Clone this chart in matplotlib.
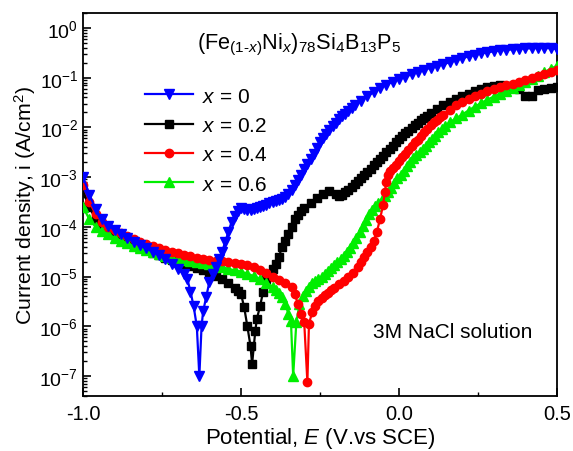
import numpy as np
import matplotlib
matplotlib.use("Agg")
import matplotlib.pyplot as plt

# Values: potential E (V vs SCE) and log10 of current density (A/cm2)
E_x00 = [-1.00, -0.98, -0.96, -0.94, -0.92, -0.90, -0.88, -0.86, -0.84, -0.82, -0.80, -0.78, -0.76,
         -0.74, -0.72, -0.70, -0.68, -0.67, -0.66, -0.65, -0.64, -0.632, -0.625, -0.62, -0.61, -0.60,
         -0.59, -0.58, -0.57, -0.56, -0.55, -0.54, -0.53, -0.52, -0.51, -0.50, -0.49, -0.48, -0.47,
         -0.46, -0.45, -0.44, -0.43, -0.42, -0.41, -0.40, -0.39, -0.38, -0.37, -0.36, -0.35, -0.34,
         -0.33, -0.32, -0.31, -0.30, -0.29, -0.28, -0.27, -0.26, -0.25, -0.24, -0.23, -0.22, -0.21,
         -0.20, -0.19, -0.18, -0.17, -0.16, -0.15, -0.14, -0.12, -0.10, -0.08, -0.06, -0.04, -0.02,
         0.00, 0.02, 0.04, 0.06, 0.08, 0.10, 0.12, 0.14, 0.16, 0.18, 0.20, 0.22, 0.24, 0.26, 0.28,
         0.30, 0.32, 0.34, 0.36, 0.38, 0.40, 0.42, 0.44, 0.46, 0.48, 0.50]
logi_x00 = [-3.00, -3.35, -3.65, -3.85, -3.98, -4.06, -4.15, -4.22, -4.30, -4.37, -4.43, -4.50, -4.57,
            -4.65, -4.75, -4.85, -4.95, -5.05, -5.30, -5.60, -6.00, -7.00, -6.00, -5.70, -5.40, -5.10,
            -4.95, -4.80, -4.65, -4.50, -4.30, -4.10, -3.90, -3.78, -3.68, -3.63, -3.64, -3.66, -3.66,
            -3.64, -3.62, -3.60, -3.57, -3.55, -3.52, -3.50, -3.48, -3.46, -3.43, -3.40, -3.33, -3.25,
            -3.15, -3.05, -2.95, -2.84, -2.74, -2.63, -2.53, -2.42, -2.30, -2.22, -2.13, -2.05, -1.98,
            -1.91, -1.84, -1.78, -1.72, -1.66, -1.60, -1.55, -1.46, -1.37, -1.29, -1.21, -1.14, -1.08,
            -1.03, -0.98, -0.93, -0.88, -0.84, -0.80, -0.77, -0.73, -0.69, -0.65, -0.61, -0.57, -0.54,
            -0.51, -0.49, -0.47, -0.45, -0.44, -0.43, -0.42, -0.41, -0.41, -0.40, -0.40, -0.41, -0.42]

E_x02 = [-1.00, -0.98, -0.96, -0.94, -0.92, -0.90, -0.88, -0.86, -0.84, -0.82, -0.80, -0.78, -0.76,
         -0.74, -0.72, -0.70, -0.68, -0.66, -0.64, -0.62, -0.60, -0.58, -0.56, -0.54, -0.52, -0.51,
         -0.50, -0.49, -0.48, -0.47, -0.465, -0.455, -0.45, -0.44, -0.43, -0.42, -0.41, -0.40, -0.39,
         -0.38, -0.37, -0.36, -0.35, -0.34, -0.33, -0.32, -0.31, -0.30, -0.28, -0.26, -0.24, -0.22,
         -0.20, -0.19, -0.18, -0.17, -0.16, -0.15, -0.14, -0.13, -0.12, -0.11, -0.10, -0.09, -0.08,
         -0.07, -0.06, -0.05, -0.04, -0.03, -0.02, -0.01, 0.00, 0.01, 0.02, 0.03, 0.04, 0.05, 0.06,
         0.07, 0.08, 0.09, 0.10, 0.12, 0.14, 0.16, 0.18, 0.20, 0.22, 0.24, 0.26, 0.28, 0.30, 0.32,
         0.34, 0.36, 0.38, 0.40, 0.42, 0.44, 0.46, 0.48, 0.50]
logi_x02 = [-3.30, -3.60, -3.85, -4.00, -4.10, -4.17, -4.24, -4.30, -4.36, -4.42, -4.47, -4.52, -4.57,
            -4.62, -4.66, -4.70, -4.74, -4.78, -4.82, -4.87, -4.92, -4.98, -5.05, -5.13, -5.22, -5.28,
            -5.35, -5.62, -6.00, -6.40, -6.76, -6.10, -5.85, -5.60, -5.30, -5.05, -4.95, -4.85, -4.75,
            -4.60, -4.40, -4.28, -4.15, -4.00, -3.85, -3.76, -3.68, -3.62, -3.52, -3.42, -3.33, -3.28,
            -3.33, -3.38, -3.36, -3.30, -3.25, -3.20, -3.14, -3.08, -3.02, -2.96, -2.90, -2.83, -2.76,
            -2.70, -2.64, -2.57, -2.50, -2.44, -2.37, -2.30, -2.24, -2.18, -2.12, -2.07, -2.02, -1.96,
            -1.91, -1.86, -1.81, -1.76, -1.71, -1.62, -1.54, -1.48, -1.42, -1.37, -1.32, -1.27, -1.23,
            -1.19, -1.16, -1.15, -1.16, -1.20, -1.23, -1.37, -1.36, -1.24, -1.22, -1.20, -1.19]

E_x04 = [-1.00, -0.98, -0.96, -0.94, -0.92, -0.90, -0.88, -0.86, -0.84, -0.82, -0.80, -0.78, -0.76,
         -0.74, -0.72, -0.70, -0.68, -0.66, -0.64, -0.62, -0.60, -0.58, -0.56, -0.54, -0.52, -0.50,
         -0.48, -0.46, -0.44, -0.42, -0.40, -0.38, -0.36, -0.34, -0.33, -0.32, -0.31, -0.30, -0.29,
         -0.285, -0.275, -0.265, -0.255, -0.245, -0.235, -0.225, -0.215, -0.205, -0.19, -0.175, -0.16,
         -0.145, -0.13, -0.12, -0.11, -0.10, -0.09, -0.08, -0.07, -0.06, -0.05, -0.045, -0.04, -0.035,
         -0.03, -0.02, -0.01, 0.00, 0.01, 0.02, 0.03, 0.04, 0.05, 0.06, 0.07, 0.08, 0.09, 0.10, 0.11,
         0.12, 0.13, 0.14, 0.16, 0.18, 0.20, 0.22, 0.24, 0.26, 0.28, 0.30, 0.32, 0.34, 0.36, 0.38,
         0.40, 0.42, 0.44, 0.46, 0.48, 0.50]
logi_x04 = [-3.15, -3.50, -3.75, -3.90, -4.00, -4.07, -4.13, -4.19, -4.25, -4.30, -4.34, -4.38, -4.42,
            -4.46, -4.50, -4.53, -4.56, -4.59, -4.62, -4.64, -4.66, -4.68, -4.69, -4.70, -4.72, -4.74,
            -4.77, -4.81, -4.86, -4.92, -5.00, -5.06, -5.12, -5.20, -5.35, -5.55, -5.75, -5.92, -7.12,
            -5.95, -5.72, -5.60, -5.50, -5.43, -5.37, -5.32, -5.27, -5.22, -5.15, -5.08, -5.00,
            -4.92, -4.80, -4.70, -4.60, -4.50, -4.40, -4.28, -4.10, -3.84, -3.55, -3.30, -3.10, -2.95,
            -2.88, -2.82, -2.76, -2.68, -2.60, -2.53, -2.45, -2.38, -2.30, -2.25, -2.17, -2.10, -2.03,
            -1.96, -1.90, -1.85, -1.80, -1.74, -1.65, -1.55, -1.48, -1.42, -1.37, -1.32, -1.27, -1.22,
            -1.18, -1.15, -1.12, -1.09, -1.05, -1.01, -0.97, -0.93, -0.89, -0.85]

E_x06 = [-1.00, -0.98, -0.96, -0.94, -0.92, -0.90, -0.88, -0.86, -0.84, -0.82, -0.80, -0.78, -0.76,
         -0.74, -0.72, -0.70, -0.68, -0.66, -0.64, -0.62, -0.60, -0.58, -0.56, -0.54, -0.52, -0.50,
         -0.48, -0.46, -0.44, -0.42, -0.40, -0.39, -0.38, -0.37, -0.36, -0.35, -0.342, -0.335, -0.325,
         -0.315, -0.305, -0.295, -0.285, -0.275, -0.265, -0.255, -0.245, -0.235, -0.225, -0.215,
         -0.205, -0.195, -0.185, -0.175, -0.165, -0.155, -0.145, -0.135, -0.125, -0.115, -0.105,
         -0.095, -0.085, -0.075, -0.065, -0.055, -0.045, -0.035, -0.025, -0.015, -0.005, 0.005, 0.015,
         0.025, 0.035, 0.045, 0.055, 0.065, 0.075, 0.085, 0.095, 0.105, 0.115, 0.125, 0.135, 0.145,
         0.16, 0.18, 0.20, 0.22, 0.24, 0.26, 0.28, 0.30, 0.32, 0.34, 0.36, 0.38, 0.40, 0.42, 0.44,
         0.46, 0.48, 0.50]
logi_x06 = [-3.60, -3.85, -4.00, -4.08, -4.15, -4.22, -4.28, -4.33, -4.38, -4.42, -4.47, -4.51, -4.55,
            -4.59, -4.62, -4.65, -4.67, -4.69, -4.71, -4.73, -4.75, -4.78, -4.81, -4.85, -4.87, -4.90,
            -4.94, -4.99, -5.05, -5.12, -5.20, -5.27, -5.33, -5.42, -5.55, -5.75, -5.90, -7.00, -5.92,
            -5.55, -5.38, -5.28, -5.20, -5.12, -5.08, -5.05, -5.00, -4.95, -4.89, -4.83,
            -4.77, -4.71, -4.65, -4.58, -4.50, -4.42, -4.33, -4.22, -4.10, -3.98, -3.86,
            -3.75, -3.66, -3.58, -3.51, -3.45, -3.37, -3.30, -3.22, -3.12, -3.02, -2.95, -2.87,
            -2.78, -2.70, -2.62, -2.55, -2.49, -2.43, -2.37, -2.30, -2.24, -2.17, -2.10, -2.04, -1.98,
            -1.90, -1.82, -1.74, -1.66, -1.58, -1.51, -1.44, -1.38, -1.32, -1.26, -1.20, -1.14, -1.08,
            -1.02, -0.96, -0.89, -0.82, -0.76]

labels = ["$x$ = 0", "$x$ = 0.2", "$x$ = 0.4", "$x$ = 0.6"]

plt.rcParams['font.family'] = ['Liberation Sans', 'DejaVu Sans']
plt.rcParams['mathtext.fontset'] = 'custom'
plt.rcParams['mathtext.rm'] = 'Liberation Sans'
plt.rcParams['mathtext.it'] = 'Liberation Sans:italic'
plt.rcParams['axes.unicode_minus'] = False

fig = plt.figure(figsize=(5.73, 4.52), dpi=100)
ax = fig.add_axes([0.145, 0.122, 0.827, 0.847])

# (data, marker, size, colour, label, zorder)
series = [
    (E_x00, logi_x00, 'v', 6.5, '#0000ff', labels[0], 6),
    (E_x02, logi_x02, 's', 5.5, '#000000', labels[1], 3),
    (E_x04, logi_x04, 'o', 6.0, '#ff0000', labels[2], 5),
    (E_x06, logi_x06, '^', 6.5, '#00ee00', labels[3], 4),
]
handles = []
for E, logi, mk, ms, col, lab, z in series:
    h, = ax.plot(E, 10 ** np.array(logi), marker=mk, color=col, markersize=ms,
                 linewidth=1.6, label=lab, zorder=z)
    handles.append(h)

ax.set_yscale('log')
ax.set_xlim(-1.0, 0.5)
ax.set_ylim(4e-8, 2)
ax.set_xticks([-1.0, -0.5, 0.0, 0.5])
ax.set_xticklabels(["-1.0", "-0.5", "0.0", "0.5"])
ax.set_xticks([-0.75, -0.25, 0.25], minor=True)
ax.set_yticks([10.0 ** k for k in range(-7, 1)])
ax.tick_params(which='both', direction='in', top=False, right=False, labelsize=14.5)
ax.tick_params(axis='y', which='major', labelsize=14)
ax.tick_params(axis='x', which='major', pad=6)
ax.tick_params(which='major', length=6, width=1.2)
ax.tick_params(which='minor', length=3, width=1.0)
for sp in ax.spines.values():
    sp.set_linewidth(1.3)

ax.set_xlabel("Potential, $E$ (V.vs SCE)", fontsize=16, labelpad=1)
ax.set_ylabel("Current density, i (A/cm$^2$)", fontsize=15.3, labelpad=1)

ax.text(0.24, 0.919, r"(Fe$_{(1\text{-}x)}$Ni$_x$)$_{78}$Si$_4$B$_{13}$P$_5$", transform=ax.transAxes,
        fontsize=15.7, ha='left', va='center')
ax.text(0.949, 0.167, "3M NaCl solution", transform=ax.transAxes, fontsize=15,
        ha='right', va='center')

ax.legend(handles=handles, loc='upper left', bbox_to_anchor=(0.13, 0.808), frameon=False,
          fontsize=15, handlelength=2.3, labelspacing=0.5, handletextpad=0.45,
          borderaxespad=0, borderpad=0)

fig.savefig("out.png", dpi=100)
